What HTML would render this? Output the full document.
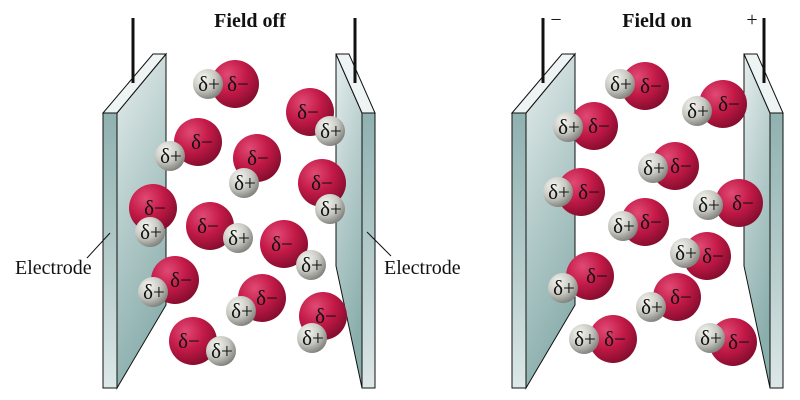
<!DOCTYPE html>
<html><head><meta charset="utf-8"><style>
html,body{margin:0;padding:0;background:#fff;width:800px;height:400px;overflow:hidden}
text{font-family:"Liberation Serif",serif;fill:#111}
</style></head><body>
<svg width="800" height="400" viewBox="0 0 800 400" xmlns="http://www.w3.org/2000/svg">
<defs>
<linearGradient id="face" x1="0" y1="0" x2="0.3" y2="1">
<stop offset="0" stop-color="#e6eeee"/><stop offset="0.5" stop-color="#b5cccb"/><stop offset="1" stop-color="#8aaeac"/></linearGradient>
<linearGradient id="edge" x1="0" y1="0" x2="0" y2="1">
<stop offset="0" stop-color="#8fb1b0"/><stop offset="0.6" stop-color="#b9cfce"/><stop offset="1" stop-color="#dde8e8"/></linearGradient>
<radialGradient id="red" cx="0.35" cy="0.3" r="0.75">
<stop offset="0" stop-color="#e04a74"/><stop offset="0.5" stop-color="#c41a48"/><stop offset="1" stop-color="#820c2c"/></radialGradient>
<radialGradient id="gray" cx="0.35" cy="0.3" r="0.75">
<stop offset="0" stop-color="#f6f6f2"/><stop offset="0.55" stop-color="#c8c8c2"/><stop offset="1" stop-color="#7c7c78"/></radialGradient>
<g id="lp">
<polygon points="117,113 166,54 166,305 117,388" fill="url(#face)" stroke="#111" stroke-width="1"/>
<polygon points="103,113 153,54 166,54 117,113" fill="#eef3f3" stroke="#111" stroke-width="1"/>
<rect x="103" y="113" width="14" height="275" fill="url(#edge)" stroke="#111" stroke-width="1"/>
</g>
</defs>
<use href="#lp"/>
<line x1="133" y1="18" x2="133" y2="83" stroke="#111" stroke-width="3"/>
<polygon points="362,113 336,54 336,266 362,388" fill="url(#face)" stroke="#111" stroke-width="1"/>
<polygon points="336,54 349,54 375,113 362,113" fill="#eef3f3" stroke="#111" stroke-width="1"/>
<rect x="362" y="113" width="13" height="275" fill="url(#edge)" stroke="#111" stroke-width="1"/>
<line x1="355" y1="18" x2="355" y2="83" stroke="#111" stroke-width="3"/>
<use href="#lp" transform="translate(409,0)"/>
<line x1="543" y1="18" x2="543" y2="83" stroke="#111" stroke-width="3"/>
<polygon points="770,113 744,54 744,266 770,388" fill="url(#face)" stroke="#111" stroke-width="1"/>
<polygon points="744,54 757,54 783,113 770,113" fill="#eef3f3" stroke="#111" stroke-width="1"/>
<rect x="770" y="113" width="13" height="275" fill="url(#edge)" stroke="#111" stroke-width="1"/>
<line x1="764" y1="18" x2="764" y2="83" stroke="#111" stroke-width="3"/>
<text x="250" y="27" font-size="20" font-weight="bold" text-anchor="middle">Field off</text>
<text x="657" y="27" font-size="20" font-weight="bold" text-anchor="middle">Field on</text>
<text x="556" y="26" font-size="20" text-anchor="middle">−</text>
<text x="752" y="26" font-size="20" text-anchor="middle">+</text>
<text x="15" y="274" font-size="20">Electrode</text>
<text x="384" y="274" font-size="20">Electrode</text>
<line x1="87" y1="258" x2="110" y2="233" stroke="#111" stroke-width="1"/>
<line x1="367" y1="232" x2="391" y2="256" stroke="#111" stroke-width="1"/>
<g font-size="21" text-anchor="middle">
<circle cx="235" cy="84" r="24" fill="url(#red)"/><circle cx="208" cy="84" r="15" fill="url(#gray)"/><text x="238" y="91">δ−</text><text x="209" y="91">δ+</text>
<circle cx="310" cy="112" r="24" fill="url(#red)"/><circle cx="330" cy="131" r="15" fill="url(#gray)"/><text x="308" y="119">δ−</text><text x="331" y="138">δ+</text>
<circle cx="198" cy="142" r="24" fill="url(#red)"/><circle cx="170" cy="156" r="15" fill="url(#gray)"/><text x="202" y="149">δ−</text><text x="171" y="163">δ+</text>
<circle cx="257" cy="158" r="24" fill="url(#red)"/><circle cx="244" cy="183" r="15" fill="url(#gray)"/><text x="258" y="165">δ−</text><text x="245" y="190">δ+</text>
<circle cx="322" cy="183" r="24" fill="url(#red)"/><circle cx="330" cy="209" r="15" fill="url(#gray)"/><text x="322" y="190">δ−</text><text x="331" y="216">δ+</text>
<circle cx="153" cy="208" r="24" fill="url(#red)"/><circle cx="150" cy="232" r="15" fill="url(#gray)"/><text x="155" y="215">δ−</text><text x="151" y="239">δ+</text>
<circle cx="210" cy="226" r="24" fill="url(#red)"/><circle cx="238" cy="238" r="15" fill="url(#gray)"/><text x="208" y="233">δ−</text><text x="239" y="245">δ+</text>
<circle cx="284" cy="244" r="24" fill="url(#red)"/><circle cx="311" cy="265" r="15" fill="url(#gray)"/><text x="282" y="251">δ−</text><text x="312" y="272">δ+</text>
<circle cx="175" cy="280" r="24" fill="url(#red)"/><circle cx="153" cy="292" r="15" fill="url(#gray)"/><text x="181" y="287">δ−</text><text x="154" y="299">δ+</text>
<circle cx="262" cy="298" r="24" fill="url(#red)"/><circle cx="241" cy="311" r="15" fill="url(#gray)"/><text x="267" y="305">δ−</text><text x="242" y="318">δ+</text>
<circle cx="323" cy="316" r="24" fill="url(#red)"/><circle cx="312" cy="338" r="15" fill="url(#gray)"/><text x="326" y="323">δ−</text><text x="313" y="345">δ+</text>
<circle cx="193" cy="341" r="24" fill="url(#red)"/><circle cx="221" cy="351" r="15" fill="url(#gray)"/><text x="189" y="348">δ−</text><text x="222" y="358">δ+</text>
<circle cx="645" cy="86" r="24" fill="url(#red)"/><circle cx="620" cy="84" r="15" fill="url(#gray)"/><text x="651" y="93">δ−</text><text x="621" y="91">δ+</text>
<circle cx="723" cy="104" r="24" fill="url(#red)"/><circle cx="697" cy="111" r="15" fill="url(#gray)"/><text x="729" y="111">δ−</text><text x="698" y="118">δ+</text>
<circle cx="594" cy="126" r="24" fill="url(#red)"/><circle cx="568" cy="127" r="15" fill="url(#gray)"/><text x="599" y="133">δ−</text><text x="569" y="134">δ+</text>
<circle cx="675" cy="166" r="24" fill="url(#red)"/><circle cx="653" cy="168" r="15" fill="url(#gray)"/><text x="681" y="173">δ−</text><text x="654" y="175">δ+</text>
<circle cx="739" cy="203" r="24" fill="url(#red)"/><circle cx="708" cy="205" r="15" fill="url(#gray)"/><text x="743" y="210">δ−</text><text x="709" y="212">δ+</text>
<circle cx="581" cy="192" r="24" fill="url(#red)"/><circle cx="558" cy="192" r="15" fill="url(#gray)"/><text x="589" y="199">δ−</text><text x="559" y="199">δ+</text>
<circle cx="645" cy="222" r="24" fill="url(#red)"/><circle cx="623" cy="226" r="15" fill="url(#gray)"/><text x="651" y="229">δ−</text><text x="624" y="233">δ+</text>
<circle cx="707" cy="256" r="24" fill="url(#red)"/><circle cx="685" cy="253" r="15" fill="url(#gray)"/><text x="713" y="263">δ−</text><text x="686" y="260">δ+</text>
<circle cx="590" cy="276" r="24" fill="url(#red)"/><circle cx="563" cy="288" r="15" fill="url(#gray)"/><text x="597" y="283">δ−</text><text x="564" y="295">δ+</text>
<circle cx="677" cy="297" r="24" fill="url(#red)"/><circle cx="651" cy="307" r="15" fill="url(#gray)"/><text x="681" y="304">δ−</text><text x="652" y="314">δ+</text>
<circle cx="613" cy="339" r="24" fill="url(#red)"/><circle cx="584" cy="339" r="15" fill="url(#gray)"/><text x="615" y="346">δ−</text><text x="585" y="346">δ+</text>
<circle cx="733" cy="342" r="24" fill="url(#red)"/><circle cx="710" cy="338" r="15" fill="url(#gray)"/><text x="739" y="349">δ−</text><text x="711" y="345">δ+</text>
</g>
</svg>
</body></html>
